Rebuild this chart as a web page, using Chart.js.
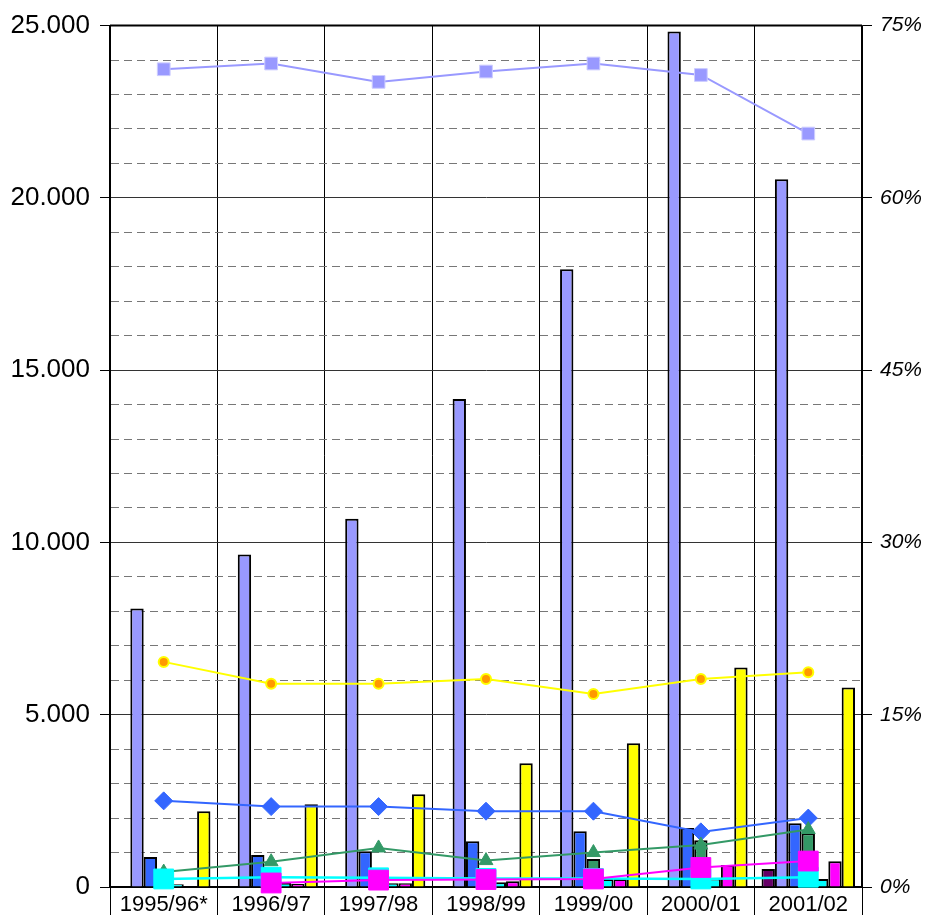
<!DOCTYPE html>
<html>
<head>
<meta charset="utf-8">
<script src="https://cdn.jsdelivr.net/npm/chart.js@4.4.0/dist/chart.umd.min.js"></script>
<style>
  html, body { margin: 0; padding: 0; background: #fff; }
  #wrap { width: 928px; height: 915px; }
</style>
</head>
<body>
<div id="wrap"><canvas id="myChart"></canvas></div>
<script>
const years = ['1995/96*', '1996/97', '1997/98', '1998/99', '1999/00', '2000/01', '2001/02'];

// bars (left axis)
const purpleBars = [null, null, null, null, null, null, 520];
const lavenderBars = [8080, 9650, 10690, 14160, 17930, 24830, 20540];
const blueBars = [870, 930, 1040, 1330, 1620, 1710, 1850];
const greenBars = [100, 380, 520, 450, 810, 1360, 1560];
const cyanBars = [80, 115, 110, 140, 230, 250, 230];
const magentaBars = [null, 87, 110, 170, 230, 640, 750];
const yellowBars = [2200, 2400, 2690, 3590, 4170, 6370, 5790];

// lines (right axis, %)
const lavenderLine = [71.2, 71.7, 70.1, 71.0, 71.7, 70.7, 65.6];
const yellowLine = [19.6, 17.7, 17.7, 18.1, 16.8, 18.1, 18.7];
const blueLine = [7.5, 7.0, 7.0, 6.6, 6.6, 4.8, 6.0];
const greenLine = [1.3, 2.2, 3.4, 2.3, 3.0, 3.65, 5.0];
const cyanLine = [0.7, 0.85, 0.8, 0.75, 0.75, 0.7, 0.85];
const magentaLine = [null, 0.35, 0.6, 0.65, 0.7, 1.7, 2.26];

// axis ranges
const leftMax = 25000;
const leftMajor = 5000;
const leftMinor = 1000;
const rightMax = 75;
const rightStep = 15;

Chart.defaults.font.family = "'Liberation Sans', Arial, sans-serif";
Chart.defaults.color = '#000';

function bar(data, color) {
    return {
        type: 'bar',
        data: data,
        backgroundColor: color,
        borderColor: '#000',
        borderWidth: 2,
        yAxisID: 'y',
        order: 2
    };
}

function line(data, color, style, radius, fill, edge, width, edgeWidth) {
    return {
        type: 'line',
        data: data,
        borderColor: color,
        borderWidth: width,
        pointStyle: style,
        pointRadius: radius,
        pointBackgroundColor: fill,
        pointBorderColor: edge,
        pointBorderWidth: edgeWidth,
        tension: 0,
        clip: false,
        yAxisID: 'y1',
        order: 1
    };
}

// draws the top frame line of the plot
const frame = {
    id: 'frame',
    afterDraw(chart) {
        const a = chart.chartArea;
        const c = chart.ctx;
        c.save();
        c.strokeStyle = '#000';
        c.lineWidth = 2;
        c.beginPath();
        c.moveTo(a.left, a.top);
        c.lineTo(a.right, a.top);
        c.stroke();
        c.restore();
    }
};

var ctx = document.getElementById('myChart').getContext('2d');

var myChart = new Chart(ctx, {
    data: {
        labels: years,
        datasets: [
            line(magentaLine, '#FF00FF', 'rect', 14, '#FF00FF', '#FF00FF', 2, 1),
            line(cyanLine, '#00FFFF', 'rect', 14, '#00FFFF', '#00FFFF', 2.5, 1),
            line(greenLine, '#339966', 'triangle', 8, '#339966', '#339966', 2, 1),
            line(blueLine, '#3366FF', 'rectRot', 9, '#3366FF', '#3366FF', 2, 1),
            line(yellowLine, '#FFFF00', 'circle', 5, '#FF9900', '#FFFF00', 2, 2),
            line(lavenderLine, '#9999FF', 'rect', 9, '#9999FF', '#CCCCFF', 2, 1),
            bar(purpleBars, '#660066'),
            bar(lavenderBars, '#9999FF'),
            bar(blueBars, '#3366FF'),
            bar(greenBars, '#339966'),
            bar(cyanBars, '#00FFFF'),
            bar(magentaBars, '#FF00FF'),
            bar(yellowBars, '#FFFF00')
        ]
    },
    options: {
        responsive: true,
        maintainAspectRatio: false,
        animation: false,
        layout: { padding: { top: 24 } },
        datasets: {
            bar: { barPercentage: 1, categoryPercentage: 0.87 }
        },
        plugins: {
            legend: { display: false },
            tooltip: { enabled: false }
        },
        scales: {
            x: {
                afterFit(scale) { scale.height = 28; },
                grid: {
                    offset: true,
                    color: '#000',
                    lineWidth: 1,
                    tickLength: 28,
                    tickColor: '#000'
                },
                border: { color: '#000', width: 2 },
                ticks: { font: { size: 22 }, padding: -23, maxRotation: 0 }
            },
            y: {
                position: 'left',
                min: 0,
                max: leftMax,
                afterFit(scale) { scale.width = 110; },
                grid: {
                    color: (c) => (c.tick && c.tick.value % leftMajor === 0) ? '#333' : '#777',
                    tickColor: (c) => (c.tick && c.tick.value % leftMajor === 0) ? '#000' : 'rgba(0,0,0,0)',
                    tickLength: 10,
                    lineWidth: 1
                },
                border: {
                    color: '#000',
                    width: 2,
                    dash: (c) => (c.tick && c.tick.value % leftMajor !== 0) ? [8, 5] : []
                },
                ticks: {
                    stepSize: leftMinor,
                    autoSkip: false,
                    padding: 10,
                    font: { size: 26 },
                    callback: (v) => v % leftMajor === 0 ? v.toLocaleString('de-DE') : ''
                }
            },
            y1: {
                position: 'right',
                min: 0,
                max: rightMax,
                afterFit(scale) { scale.width = 66; },
                grid: {
                    drawOnChartArea: false,
                    tickLength: 10,
                    tickColor: '#000'
                },
                border: { color: '#000', width: 1.5 },
                ticks: {
                    stepSize: rightStep,
                    padding: 8,
                    font: { size: 21, style: 'italic' },
                    callback: (v) => v + '%'
                }
            }
        }
    },
    plugins: [frame]
});
</script>
</body>
</html>
